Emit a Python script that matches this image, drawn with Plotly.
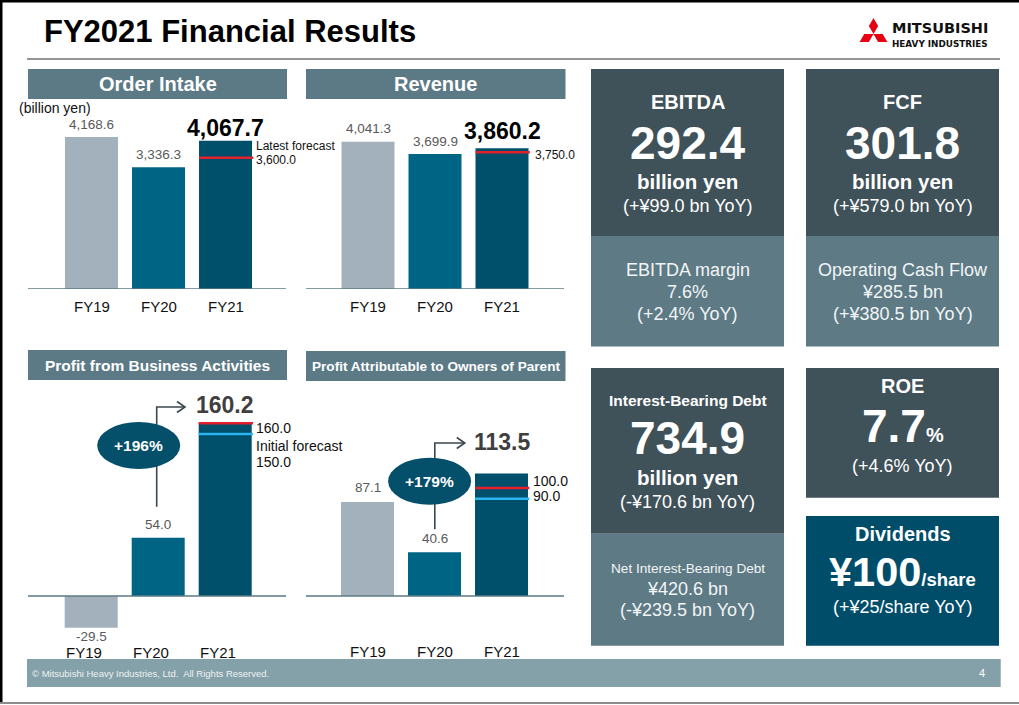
import plotly.graph_objects as go

W, H = 1019, 705


def X(px):
    return px / W


def Y(py):
    return 1 - py / H


FONT = "Liberation Sans, Arial, Helvetica, sans-serif"

# ---------------- data ----------------
categories = ["FY19", "FY20", "FY21"]
order_intake = [4168.6, 3336.3, 4067.7]
revenue = [4041.3, 3699.9, 3860.2]
profit_business = [-29.5, 54.0, 160.2]
profit_owners = [87.1, 40.6, 113.5]
latest_forecast = [3600.0, 3750.0, 160.0, 100.0]
initial_forecast = [None, None, 150.0, 90.0]
growth_pct = [196, 179]
chart_titles = ["Order Intake", "Revenue", "Profit from Business Activities",
                "Profit Attributable to Owners of Parent"]

ebitda = 292.4
ebitda_yoy = 99.0
ebitda_margin = 7.6
ebitda_margin_yoy = 2.4
fcf = 301.8
fcf_yoy = 579.0
ocf = 285.5
ocf_yoy = 380.5
ibd = 734.9
ibd_yoy = -170.6
net_ibd = 420.6
net_ibd_yoy = -239.5
roe = 7.7
roe_yoy = 4.6
dividend = 100
dividend_yoy = 25

# ---------------- style ----------------
BAR_COLORS = ["#a3b1bd", "#006485", "#004f6b"]
HEADER = "#5b7a86"
DARK = "#3f5159"
LIGHT = "#5d7a85"
DIVC = "#004d6a"
FOOT = "#84a0a8"
RED = "#e3202c"
SKY = "#2bb5ee"
AXIS = "#5b7a86"
LBL = "#595959"

SPACING = 67.0
BARW = 53.0 / SPACING

# chart layout specs (pixels)
charts = [
    dict(vals=order_intake, left=28, right=286, c0=91.5, base=289, k=0.03646, top=108, bottom=289,
         lab_off=[13, 12.4, 12.7], big=2, fy_y=306, fy_dx=0),
    dict(vals=revenue, left=306, right=564, c0=368, base=289, k=0.03646, top=108, bottom=289,
         lab_off=[13.4, 12.4, 17.6], big=2, fy_y=306, fy_dx=0),
    dict(vals=profit_business, left=28, right=286, c0=91.2, base=596, k=1.08, top=385, bottom=640,
         lab_off=[-8.5, 13.3, 18], big=2, fy_y=652.5, fy_dx=-7),
    dict(vals=profit_owners, left=306, right=564, c0=367.5, base=596, k=1.08, top=385, bottom=640,
         lab_off=[14.3, 13.3, 31], big=2, fy_y=651, fy_dx=0),
]

fig = go.Figure()
shapes = []
anns = []


def ann(text, x, y, size, color="white", xanchor="center", yanchor="middle", family=FONT, **kw):
    d = dict(text=text, x=x, y=y, xref=kw.pop("xref", "paper"), yref=kw.pop("yref", "paper"),
             showarrow=False, xanchor=xanchor, yanchor=yanchor,
             font=dict(family=family, size=size, color=color))
    d.update(kw)
    anns.append(d)


def rect(x0, y0, x1, y1, color):
    shapes.append(dict(type="rect", xref="paper", yref="paper", x0=X(x0), x1=X(x1),
                       y0=Y(y1), y1=Y(y0), fillcolor=color, line=dict(width=0), layer="below"))


layout_axes = {}
for i, c in enumerate(charts):
    n = "" if i == 0 else str(i + 1)
    xa, ya = "x" + n, "y" + n
    fig.add_trace(go.Bar(x=categories, y=c["vals"], marker=dict(color=BAR_COLORS, line=dict(width=0)),
                         width=BARW, xaxis=xa, yaxis=ya, showlegend=False, hoverinfo="skip"))
    layout_axes["xaxis" + n] = dict(domain=[X(c["left"]), X(c["right"])], type="category",
                                    range=[(c["left"] - c["c0"]) / SPACING, (c["right"] - c["c0"]) / SPACING],
                                    showgrid=False, zeroline=False, showticklabels=False, showline=False,
                                    anchor=ya, fixedrange=True)
    ymin = -(c["bottom"] - c["base"]) / c["k"]
    ymax = (c["base"] - c["top"]) / c["k"]
    layout_axes["yaxis" + n] = dict(domain=[Y(c["bottom"]), Y(c["top"])], range=[ymin, ymax],
                                    showgrid=False, zeroline=False, showticklabels=False, showline=False,
                                    anchor=xa, fixedrange=True)
    # baseline
    shapes.append(dict(type="line", xref=xa + " domain", yref=ya, x0=0, x1=1, y0=0, y1=0,
                       line=dict(color=AXIS, width=1.6)))
    # forecast lines
    shapes.append(dict(type="line", xref=xa, yref=ya, x0=2 - BARW / 2, x1=2 + BARW / 2 + 0.02,
                       y0=latest_forecast[i], y1=latest_forecast[i], line=dict(color=RED, width=2.6)))
    if initial_forecast[i] is not None:
        shapes.append(dict(type="line", xref=xa, yref=ya, x0=2 - BARW / 2, x1=2 + BARW / 2 + 0.02,
                           y0=initial_forecast[i], y1=initial_forecast[i], line=dict(color=SKY, width=2.6)))
    # value labels
    for j, v in enumerate(c["vals"]):
        txt = f"{v:,.1f}"
        if j == c["big"]:
            col = "#000000" if i < 2 else "#3f3f3f"
            ann(f"<b>{txt}</b>", categories[j], v, 23, col, xref=xa, yref=ya, yshift=c["lab_off"][j])
        else:
            ann(txt, categories[j], v, 13.5, LBL, xref=xa, yref=ya, yshift=c["lab_off"][j])
    # category labels
    for j, cat in enumerate(categories):
        ann(cat, cat, Y(c["fy_y"]), 15, "#111111", xref=xa, yref="paper", xshift=c["fy_dx"])

# forecast text labels
fx = 2 + BARW / 2
ann("Latest forecast", fx, latest_forecast[0], 12, "#111111", xanchor="left", xref="x", yref="y",
    xshift=2, yshift=11.7)
ann(f"{latest_forecast[0]:,.1f}", fx, latest_forecast[0], 12, "#111111", xanchor="left", xref="x", yref="y",
    xshift=2, yshift=-2.3)
ann(f"{latest_forecast[1]:,.1f}", fx, latest_forecast[1], 12, "#111111", xanchor="left", xref="x2", yref="y2",
    xshift=4, yshift=-2.4)
ann(f"{latest_forecast[2]:,.1f}", fx, latest_forecast[2], 14, "#111111", xanchor="left", xref="x3", yref="y3",
    xshift=2, yshift=-4.5)
ann("Initial forecast", fx, initial_forecast[2], 14, "#111111", xanchor="left", xref="x3", yref="y3",
    xshift=2, yshift=-12)
ann(f"{initial_forecast[2]:,.1f}", fx, initial_forecast[2], 14, "#111111", xanchor="left", xref="x3", yref="y3",
    xshift=2, yshift=-27.7)
ann(f"{latest_forecast[3]:,.1f}", fx, latest_forecast[3], 14, "#111111", xanchor="left", xref="x4", yref="y4",
    xshift=3, yshift=7)
ann(f"{initial_forecast[3]:,.1f}", fx, initial_forecast[3], 14, "#111111", xanchor="left", xref="x4", yref="y4",
    xshift=3, yshift=2.8)

# growth bubbles + arrows (pixel layout)
bubbles = [
    dict(cx=138.7, cy=445.5, vx=156.7, vy0=506.7, vy1=407, tip=185),
    dict(cx=429.6, cy=481.3, vx=434.8, vy0=529.3, vy1=443, tip=464.8),
]
for g, b in zip(growth_pct, bubbles):
    p = f"M {X(b['vx'])} {Y(b['vy0'])} L {X(b['vx'])} {Y(b['vy1'])} L {X(b['tip'])} {Y(b['vy1'])}"
    shapes.append(dict(type="path", xref="paper", yref="paper", path=p, line=dict(color="#3a474e", width=1.6)))
    ch = (f"M {X(b['tip'] - 8)} {Y(b['vy1'] - 5.5)} L {X(b['tip'])} {Y(b['vy1'])} "
          f"L {X(b['tip'] - 8)} {Y(b['vy1'] + 5.5)}")
    shapes.append(dict(type="path", xref="paper", yref="paper", path=ch, line=dict(color="#3a474e", width=1.6)))
    shapes.append(dict(type="circle", xref="paper", yref="paper", x0=X(b["cx"] - 41.5), x1=X(b["cx"] + 41.5),
                       y0=Y(b["cy"] + 23.5), y1=Y(b["cy"] - 23.5), fillcolor="#044f69", line=dict(width=0)))
    ann(f"<b>+{g}%</b>", X(b["cx"]), Y(b["cy"]), 15.5, "white")

# section headers
hdrs = [(28, 69, 287, 99, 20), (306, 69, 565.5, 99, 20), (28, 350, 287, 380, 15.5), (306, 351, 565.5, 381, 13.6)]
for t, (x0, y0, x1, y1, fs) in zip(chart_titles, hdrs):
    rect(x0, y0, x1, y1, HEADER)
    ann(f"<b>{t}</b>", X((x0 + x1) / 2), Y((y0 + y1) / 2), fs, "white")

ann("(billion yen)", X(16.5), Y(108), 14, "#111111", xanchor="left")

# page frame / title
rect(0, 0, 1019, 2.5, "#000000")
rect(0, 0, 2.5, 703, "#000000")
rect(0, 702, 1019, 704, "#8c8c8c")
shapes.append(dict(type="line", xref="paper", yref="paper", x0=X(27), x1=X(1000), y0=Y(59), y1=Y(59),
                   line=dict(color="#707070", width=1.5)))
ann("<b>FY2021 Financial Results</b>", X(42), Y(31.5), 31, "#000000", xanchor="left")

# logo
lc = (873.5, 34.0)
L = 16.0
hw = 4.62


def diamond(dx, dy):
    # dx,dy: unit vector of the long diagonal from the centre
    fx_, fy_ = lc[0] + L * dx, lc[1] + L * dy
    mx, my = lc[0] + L * dx / 2, lc[1] + L * dy / 2
    px_, py_ = -dy, dx
    pts = [(lc[0], lc[1]), (mx + hw * px_, my + hw * py_), (fx_, fy_), (mx - hw * px_, my - hw * py_)]
    return "M " + " L ".join(f"{X(a)} {Y(b)}" for a, b in pts) + " Z"


for dx, dy in [(0, -1), (-0.866, 0.5), (0.866, 0.5)]:
    shapes.append(dict(type="path", xref="paper", yref="paper", path=diamond(dx, dy),
                       fillcolor="#e60012", line=dict(width=0)))
ann("<b>MITSUBISHI</b>", X(891), Y(36.5), 14.5, "#111111", xanchor="left", yanchor="bottom",
    family="DejaVu Sans, sans-serif", borderpad=0)
ann("<b>HEAVY INDUSTRIES</b>", X(891), Y(37.5), 8.8, "#111111", xanchor="left", yanchor="top",
    family="DejaVu Sans, sans-serif", borderpad=0)

# footer
rect(27, 659, 1000.7, 687, FOOT)
ann("© Mitsubishi Heavy Industries, Ltd.  All Rights Reserved.", X(30), Y(673), 9.5, "#eef3f4", xanchor="left")
ann("4", X(982), Y(673), 11, "white")


def yoy(v, unit=" bn"):
    s = "+" if v >= 0 else "-"
    return f"({s}¥{abs(v):,.1f}{unit} YoY)"


# KPI boxes
rect(591, 69, 784, 236, DARK)
rect(591, 236, 784, 346.5, LIGHT)
rect(806, 69, 999, 236, DARK)
rect(806, 236, 999, 346.5, LIGHT)
rect(591, 368, 784, 533.7, DARK)
rect(591, 533.7, 784, 645.7, LIGHT)
rect(806, 368, 999, 497.7, DARK)
rect(806, 516, 999, 645.7, DIVC)

cA, cB = 687.5, 902.5
ann("<b>EBITDA</b>", X(cA), Y(101.7), 20)
ann(f"<b>{ebitda:.1f}</b>", X(cA), Y(142.5), 46)
ann("<b>billion yen</b>", X(cA), Y(182), 20.5)
ann(yoy(ebitda_yoy), X(cA), Y(206), 18)
ann("EBITDA margin", X(cA), Y(270), 18, "#f2f5f6")
ann(f"{ebitda_margin:.1f}%", X(cA), Y(292), 18, "#f2f5f6")
ann(f"(+{ebitda_margin_yoy:.1f}% YoY)", X(cA), Y(313.5), 18, "#f2f5f6")

ann("<b>FCF</b>", X(cB), Y(101.7), 20)
ann(f"<b>{fcf:.1f}</b>", X(cB), Y(142.5), 46)
ann("<b>billion yen</b>", X(cB), Y(182), 20.5)
ann(yoy(fcf_yoy), X(cB), Y(206), 18)
ann("Operating Cash Flow", X(cB), Y(270), 18, "#f2f5f6")
ann(f"¥{ocf:.1f} bn", X(cB), Y(292), 18, "#f2f5f6")
ann(yoy(ocf_yoy), X(cB), Y(313.5), 18, "#f2f5f6")

ann("<b>Interest-Bearing Debt</b>", X(cA), Y(400), 15.5)
ann(f"<b>{ibd:.1f}</b>", X(cA), Y(437.8), 46)
ann("<b>billion yen</b>", X(cA), Y(477.5), 20.5)
ann(yoy(ibd_yoy), X(cA), Y(502), 18)
ann("Net Interest-Bearing Debt", X(cA), Y(568), 13.6, "#f2f5f6")
ann(f"¥{net_ibd:.1f} bn", X(cA), Y(588.5), 18, "#f2f5f6")
ann(yoy(net_ibd_yoy), X(cA), Y(610), 18, "#f2f5f6")

ann("<b>ROE</b>", X(cB), Y(385.7), 20)
ann(f"<b>{roe:.1f}<span style='font-size:20px'>%</span></b>", X(cB), Y(426), 46)
ann(f"(+{roe_yoy:.1f}% YoY)", X(cB), Y(466), 18)

ann("<b>Dividends</b>", X(cB), Y(534), 20)
ann(f"<b>¥{dividend}<span style='font-size:18.5px'>/share</span></b>", X(cB), Y(571), 41.5)
ann(f"(+¥{dividend_yoy}/share YoY)", X(cB), Y(607.3), 18)

fig.update_layout(
    width=W, height=H, autosize=False,
    margin=dict(l=0, r=0, t=0, b=0, pad=0),
    paper_bgcolor="white", plot_bgcolor="rgba(0,0,0,0)",
    shapes=shapes, annotations=anns, showlegend=False,
    font=dict(family=FONT),
    **layout_axes,
)

fig.write_html("out.html", config={"displayModeBar": False},
               post_script="document.body.style.margin='0';document.body.style.overflow='hidden';")
